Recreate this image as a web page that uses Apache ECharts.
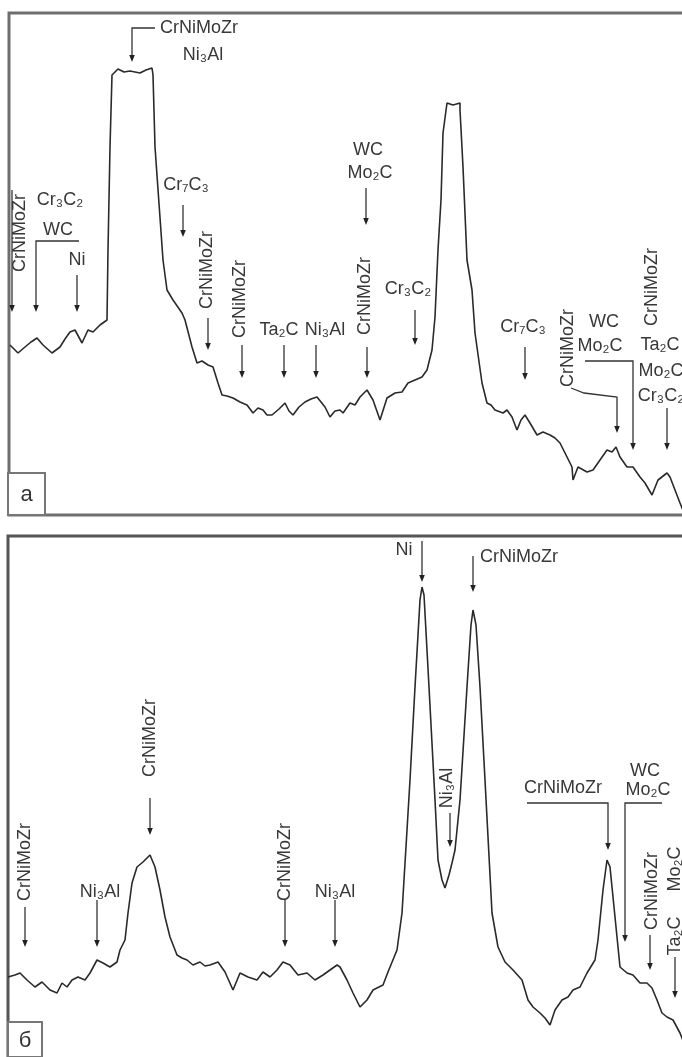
<!DOCTYPE html>
<html><head><meta charset="utf-8">
<script src="https://cdn.jsdelivr.net/npm/echarts@6/dist/echarts.min.js"></script>
<style>html,body{margin:0;padding:0;background:#fff}#c{width:682px;height:1057px}</style>
</head><body><div id="c"></div>
<script>
// Panel a: diffraction curve [position, intensity] (arbitrary units)
const curveA = [[1,170],[9,162],[16,168],[22,173],[28,177],[34,170],[43,162],[51,168],[56,176],[61,183],[66,185],[73,172],[79,185],[84,183],[91,190],[98,195],[99,265],[101,368],[103,440],[109,446],[115,443],[121,444],[131,442],[137,445],[143,447],[144,440],[146,368],[154,255],[158,225],[164,215],[173,202],[176,195],[183,168],[188,152],[193,154],[199,150],[204,148],[209,132],[213,120],[218,119],[224,117],[231,113],[238,110],[244,102],[249,107],[254,105],[258,100],[263,100],[270,106],[276,112],[280,104],[284,100],[290,108],[296,113],[302,116],[308,118],[316,108],[321,98],[326,104],[331,105],[334,102],[341,112],[346,110],[351,118],[358,125],[364,115],[371,95],[378,117],[386,122],[393,123],[399,132],[406,135],[413,138],[418,145],[423,165],[426,198],[429,265],[432,315],[434,382],[438,412],[444,410],[451,412],[451,405],[454,348],[458,255],[463,225],[466,182],[473,132],[478,112],[482,110],[486,105],[494,102],[498,105],[503,98],[508,85],[512,95],[516,100],[521,92],[528,80],[534,83],[541,80],[546,77],[551,72],[558,58],[563,48],[564,35],[569,48],[578,43],[584,45],[591,55],[598,65],[603,63],[607,68],[611,58],[618,48],[624,48],[631,38],[636,32],[643,20],[649,35],[658,42],[661,38],[666,25],[671,12],[676,0]];
// Panel б
const curveB = [[0,81],[2,80],[7,83],[12,85],[19,78],[27,71],[34,76],[42,68],[49,65],[54,75],[59,71],[64,78],[70,81],[77,78],[82,85],[89,98],[95,95],[102,91],[109,96],[112,108],[117,118],[120,145],[124,175],[129,191],[135,196],[142,203],[147,191],[152,168],[157,141],[162,121],[169,103],[174,100],[179,98],[185,93],[192,96],[197,92],[202,93],[210,96],[217,86],[225,68],[232,85],[240,81],[249,78],[255,86],[262,81],[269,88],[275,96],[282,93],[290,83],[299,85],[307,78],[315,83],[322,88],[329,93],[332,91],[339,78],[345,65],[352,51],[359,58],[365,68],[375,73],[380,86],[389,108],[394,145],[399,228],[402,278],[407,371],[412,458],[414,471],[416,463],[421,371],[427,258],[430,198],[434,178],[437,170],[441,183],[444,195],[447,208],[452,258],[459,371],[463,433],[465,448],[468,433],[472,371],[477,278],[484,145],[490,111],[497,96],[505,88],[514,78],[520,58],[525,51],[532,45],[537,40],[542,33],[547,48],[554,58],[560,61],[565,68],[572,71],[579,85],[587,98],[590,118],[595,168],[599,198],[602,191],[605,161],[609,121],[612,91],[619,85],[625,83],[632,75],[639,75],[644,70],[649,58],[654,45],[659,41],[665,38],[672,25],[678,10]];

// Annotations: [x, y, text, rotated(1/0), align]
const labelsA = [
  [11,282,'CrNiMoZr',1],[51,315,'Cr₃C₂',0],[49,285,'WC',0],[68,255,'Ni',0],
  [151,487,'CrNiMoZr',0,'left'],[194,460,'Ni₃Al',0],[177,330,'Cr₇C₃',0],
  [198,245,'CrNiMoZr',1],[231,216,'CrNiMoZr',1],[270,185,'Ta₂C',0],[316,185,'Ni₃Al',0],
  [356,219,'CrNiMoZr',1],[359,365,'WC',0],[361,342,'Mo₂C',0],[399,226,'Cr₃C₂',0],
  [514,188,'Cr₇C₃',0],[559,167,'CrNiMoZr',1],[595,193,'WC',0],[591,169,'Mo₂C',0],
  [643,228,'CrNiMoZr',1],[651,170,'Ta₂C',0],[652,144,'Mo₂C',0],[652,119,'Cr₃C₂',0]
];
const arrowsA = [
  [[3,325],[3,203]],[[70,274],[27,274],[27,203]],[[68,240],[68,203]],
  [[146,487],[123,487],[123,453]],[[174,310],[174,278]],[[199,197],[199,165]],
  [[233,170],[233,137]],[[275,170],[275,137]],[[307,170],[307,137]],[[358,168],[358,137]],
  [[357,327],[357,290]],[[406,205],[406,170]],[[516,168],[516,135]],
  [[562,127],[575,122],[608,118],[608,82]],[[576,154],[624,154],[624,65]],[[658,107],[658,65]]
];
const labelsB = [
  [17,196,'CrNiMoZr',1],[92,166,'Ni₃Al',0],[142,320,'CrNiMoZr',1],[277,196,'CrNiMoZr',1],
  [327,166,'Ni₃Al',0],[396,508,'Ni',0],[511,501,'CrNiMoZr',0],[439,270,'Ni₃Al',1],
  [555,270,'CrNiMoZr',0],[637,287,'WC',0],[640,268,'Mo₂C',0],[644,167,'CrNiMoZr',1],
  [667,189,'Mo₂C',1],[667,122,'Ta₂C',1]
];
const arrowsB = [
  [[17,151],[17,111]],[[89,158],[89,111]],[[142,260],[142,223]],[[277,158],[277,111]],
  [[327,158],[327,111]],[[414,517],[414,476]],[[465,502],[465,466]],[[442,245],[442,211]],
  [[519,255],[600,255],[600,208]],[[654,255],[617,255],[617,116]],[[642,123],[642,88]],[[667,101],[667,60]]
];
// Panel tag boxes: [x0, y0, x1, y1, letter]
const tagA = [[-1,0,36,42,'a']];
const tagB = [[0,1,34,36,'б']];

const FONT = '"Liberation Sans", Arial, sans-serif';
function textRender(list){ return function(params, api){
  const L = list[params.dataIndex]; const p = api.coord([L[0], L[1]]);
  return {type:'text', x:p[0], y:p[1], rotation: L[3] ? Math.PI/2 : 0,
    style:{text:L[2], fill:'#383838', font:'18px ' + FONT, align:L[4]||'center', verticalAlign:'middle'}};
};}
function arrowRender(list){ return function(params, api){
  const pts = list[params.dataIndex].map(p => api.coord(p));
  const n = pts.length, a = pts[n-2], b = pts[n-1];
  const dx = b[0]-a[0], dy = b[1]-a[1], len = Math.hypot(dx, dy), ux = dx/len, uy = dy/len;
  const hl = 7, hw = 2.8;
  const base = [b[0]-ux*hl, b[1]-uy*hl];
  const head = [[b[0],b[1]],[base[0]-uy*hw, base[1]+ux*hw],[base[0]+uy*hw, base[1]-ux*hw]];
  return {type:'group', children:[
    {type:'polyline', shape:{points: pts.slice(0, n-1).concat([[base[0]+ux*2, base[1]+uy*2]])}, style:{stroke:'#333', lineWidth:1.3, fill:null}},
    {type:'polygon', shape:{points: head}, style:{fill:'#222'}}
  ]};
};}
function tagRender(list){ return function(params, api){
  const T = list[params.dataIndex];
  const p0 = api.coord([T[0], T[1]]), p1 = api.coord([T[2], T[3]]);
  return {type:'group', children:[
    {type:'rect', shape:{x:p0[0], y:p1[1], width:p1[0]-p0[0], height:p0[1]-p1[1]}, style:{fill:'#fff', stroke:'#777', lineWidth:2}},
    {type:'text', x:(p0[0]+p1[0])/2, y:(p0[1]+p1[1])/2+1, style:{text:T[4], fill:'#333', font:'22px ' + FONT, align:'center', verticalAlign:'middle'}}
  ]};
};}

const chart = echarts.init(document.getElementById('c'), null, {renderer:'canvas'});
const hiddenAxis = {axisLine:{show:false}, axisTick:{show:false}, axisLabel:{show:false}, splitLine:{show:false}};
chart.setOption({
  animation:false,
  backgroundColor:'#fff',
  grid:[
    {left:9, top:13, width:690, height:502, show:true, borderColor:'#6e6e6e', borderWidth:3, outerBoundsMode:'none', containLabel:false},
    {left:8, top:536, width:690, height:527, show:true, borderColor:'#555', borderWidth:3, outerBoundsMode:'none', containLabel:false}
  ],
  xAxis:[
    Object.assign({type:'value', gridIndex:0, min:0, max:690}, hiddenAxis),
    Object.assign({type:'value', gridIndex:1, min:0, max:690}, hiddenAxis)
  ],
  yAxis:[
    Object.assign({type:'value', gridIndex:0, min:0, max:502}, hiddenAxis),
    Object.assign({type:'value', gridIndex:1, min:-5, max:522}, hiddenAxis)
  ],
  series:[
    {type:'line', xAxisIndex:0, yAxisIndex:0, data:curveA, showSymbol:false, lineStyle:{color:'#2a2a2a', width:1.6}},
    {type:'line', xAxisIndex:1, yAxisIndex:1, data:curveB, showSymbol:false, lineStyle:{color:'#2a2a2a', width:1.6}},
    {type:'custom', xAxisIndex:0, yAxisIndex:0, data:arrowsA.map(a=>a[a.length-1]), renderItem:arrowRender(arrowsA)},
    {type:'custom', xAxisIndex:1, yAxisIndex:1, data:arrowsB.map(a=>a[a.length-1]), renderItem:arrowRender(arrowsB)},
    {type:'custom', xAxisIndex:0, yAxisIndex:0, data:labelsA.map(l=>[l[0],l[1]]), renderItem:textRender(labelsA)},
    {type:'custom', xAxisIndex:1, yAxisIndex:1, data:labelsB.map(l=>[l[0],l[1]]), renderItem:textRender(labelsB)},
    {type:'custom', xAxisIndex:0, yAxisIndex:0, data:tagA.map(t=>[t[0],t[1]]), renderItem:tagRender(tagA)},
    {type:'custom', xAxisIndex:1, yAxisIndex:1, data:tagB.map(t=>[t[0],t[1]]), renderItem:tagRender(tagB)}
  ]
});
</script></body></html>
